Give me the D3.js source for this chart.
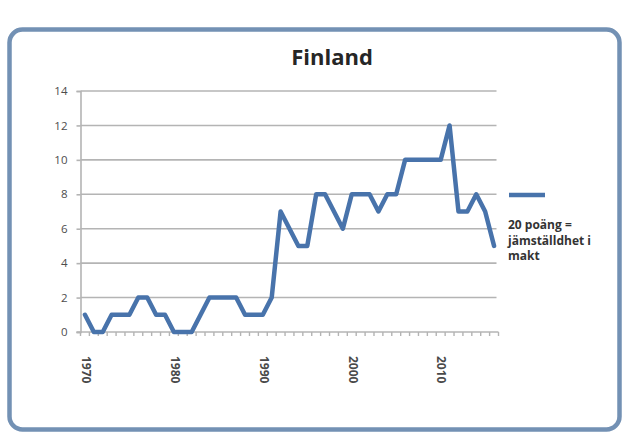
<!DOCTYPE html>
<html>
<head>
<meta charset="utf-8">
<script src="https://cdn.jsdelivr.net/npm/d3@7/dist/d3.min.js"></script>
<style>
  html, body { margin: 0; padding: 0; background: #ffffff; }
  svg { display: block; }
  text { font-family: "Open Sans", "Noto Sans", sans-serif; }
</style>
</head>
<body>
<script>
// Gender-equality-in-power score for Finland, one value per year
const years = d3.range(1970, 2017);
const scores = [
  1, 0, 0, 1, 1, 1, 2, 2, 1, 1,      // 1970-1979
  0, 0, 0, 1, 2, 2, 2, 2, 1, 1,      // 1980-1989
  1, 2, 7, 6, 5, 5, 8, 8, 7, 6,      // 1990-1999
  8, 8, 8, 7, 8, 8, 10, 10, 10, 10,  // 2000-2009
  10, 12, 7, 7, 8, 7, 5              // 2010-2016
];
const yTicks = [0, 2, 4, 6, 8, 10, 12, 14];
const xLabels = [1970, 1980, 1990, 2000, 2010];
const title = "Finland";
const legendLines = ["20 poäng =", "jämställdhet i", "makt"];

const W = 630, H = 437;
const plot = { left: 80.5, right: 498.5, top: 91, bottom: 332 };
const lineColor = "#4873ab";
const gridColor = "#b4b4b4";

const svg = d3.select("body").append("svg")
  .attr("width", W).attr("height", H);

svg.append("rect").attr("width", W).attr("height", H).attr("fill", "#ffffff");

// Rounded chart frame
svg.append("rect")
  .attr("x", 9.5).attr("y", 29.5)
  .attr("width", 610).attr("height", 400)
  .attr("rx", 13).attr("ry", 13)
  .attr("fill", "#ffffff")
  .attr("stroke", "#7391b4")
  .attr("stroke-width", 4.5);

// Title
svg.append("text")
  .attr("x", 332).attr("y", 65)
  .attr("text-anchor", "middle")
  .attr("font-size", 22).attr("font-weight", 700)
  .attr("fill", "#262626")
  .text(title);

// Scales
const band = d3.scaleBand().domain(years).range([plot.left, plot.right]).padding(0);
const xc = d => band(d) + band.bandwidth() / 2;
const y = d3.scaleLinear().domain([0, 14]).range([plot.bottom, plot.top]);

// Horizontal gridlines
svg.append("g").selectAll("line")
  .data(yTicks.filter(v => v > 0))
  .join("line")
  .attr("x1", plot.left).attr("x2", plot.right - 2)
  .attr("y1", d => y(d)).attr("y2", d => y(d))
  .attr("stroke", gridColor).attr("stroke-width", 1.6);

// Y axis
const yAxis = svg.append("g")
  .attr("transform", `translate(${plot.left},0)`)
  .call(d3.axisLeft(y).tickValues(yTicks).tickSize(4).tickPadding(9).tickFormat(d3.format("d")));
yAxis.select(".domain").attr("stroke", gridColor).attr("stroke-width", 1.6);
yAxis.selectAll(".tick line").attr("stroke", gridColor).attr("stroke-width", 1.6);
yAxis.selectAll(".tick text")
  .attr("font-size", 11.5).attr("fill", "#4d4d4d")
  .attr("font-family", "\"Open Sans\", sans-serif");

// X axis baseline and category boundary ticks
const xAxis = svg.append("g");
xAxis.append("line")
  .attr("x1", plot.left - 4).attr("x2", plot.right)
  .attr("y1", plot.bottom).attr("y2", plot.bottom)
  .attr("stroke", gridColor).attr("stroke-width", 1.6);
xAxis.selectAll("line.tk")
  .data(years.concat([null]))
  .join("line").attr("class", "tk")
  .attr("x1", d => d === null ? plot.right : band(d))
  .attr("x2", d => d === null ? plot.right : band(d))
  .attr("y1", plot.bottom).attr("y2", plot.bottom + 4)
  .attr("stroke", gridColor).attr("stroke-width", 1.4);

// Rotated decade labels
xAxis.selectAll("text")
  .data(xLabels)
  .join("text")
  .attr("transform", d => `translate(${xc(d) + 1},${plot.bottom + 24}) rotate(90)`)
  .attr("dy", "0.35em")
  .attr("text-anchor", "start")
  .attr("font-size", 12).attr("font-weight", 700)
  .attr("fill", "#4a4a4a")
  .text(d => d);

// Data line
const line = d3.line()
  .x((d, i) => xc(years[i]))
  .y(d => y(d));
svg.append("path")
  .datum(scores)
  .attr("d", line)
  .attr("fill", "none")
  .attr("stroke", lineColor)
  .attr("stroke-width", 4.5)
  .attr("stroke-linejoin", "round")
  .attr("stroke-linecap", "round");

// Legend
const lg = svg.append("g");
lg.append("line")
  .attr("x1", 509).attr("x2", 545)
  .attr("y1", 195).attr("y2", 195)
  .attr("stroke", lineColor).attr("stroke-width", 4.5);
lg.selectAll("text")
  .data(legendLines)
  .join("text")
  .attr("x", 508)
  .attr("y", (d, i) => 229 + i * 15.5)
  .attr("font-size", 12).attr("font-weight", 700)
  .attr("fill", "#333333")
  .text(d => d);
</script>
</body>
</html>
